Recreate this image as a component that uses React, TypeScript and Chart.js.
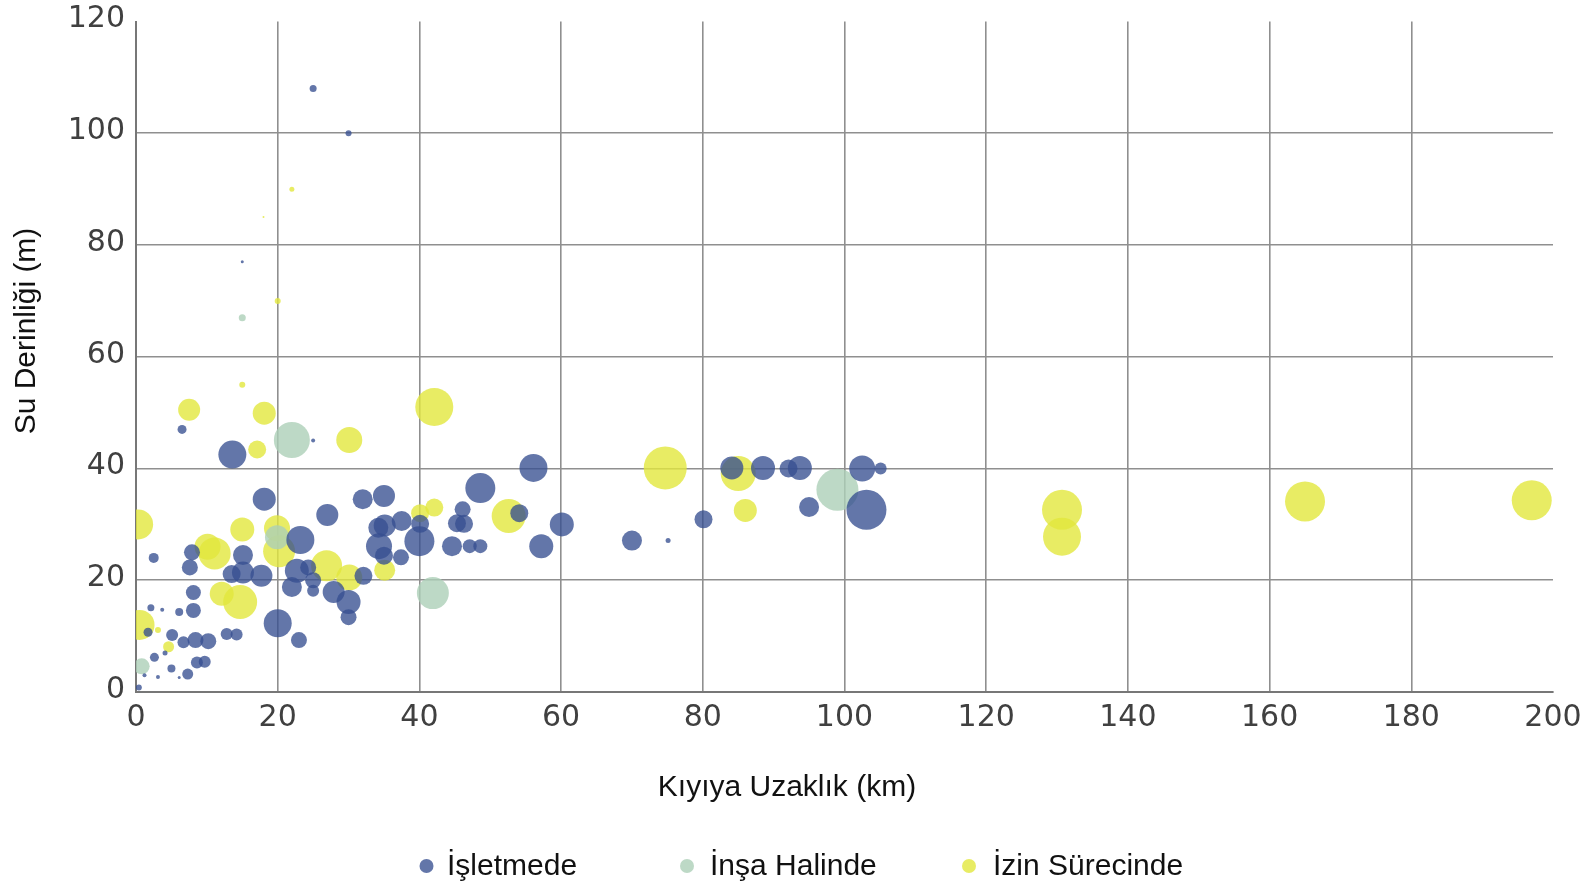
import React, { useEffect, useRef } from "react";
import { Chart, registerables } from "chart.js";

Chart.register(...registerables);

// ---- Data ----
const seriesNames = ["İşletmede", "İnşa Halinde", "İzin Sürecinde"];
const xAxisTitle = "Kıyıya Uzaklık (km)";
const yAxisTitle = "Su Derinliği (m)";
const xTickValues = [0, 20, 40, 60, 80, 100, 120, 140, 160, 180, 200];
const yTickValues = [0, 20, 40, 60, 80, 100, 120];

// [distance km, depth m, bubble radius]
const isletmede: number[][] = [
  [25, 108, 3.5], [30, 100, 3], [15, 77, 1.5], [6.5, 47, 4.5], [13.6, 42.5, 14], [25, 45, 2],
  [18.1, 34.5, 11.5], [2.5, 24, 5], [7.9, 25, 8], [7.6, 22.3, 8], [8.1, 17.8, 7.5], [8.1, 14.6, 7.5],
  [2.1, 15.1, 3.5], [3.7, 14.7, 2], [6.1, 14.3, 4], [1.7, 10.7, 4.5], [5.1, 10.2, 6], [6.7, 8.9, 6],
  [8.4, 9.3, 8], [10.2, 9.1, 8], [12.8, 10.4, 6], [14.2, 10.3, 6], [4.1, 7.0, 2.5], [2.6, 6.2, 4.5],
  [8.6, 5.3, 6], [9.7, 5.4, 6], [5.0, 4.2, 4], [7.3, 3.2, 5.5], [3.1, 2.7, 2], [6.1, 2.6, 1.5],
  [0.4, 0.8, 3], [1.2, 3.0, 2], [15.1, 24.5, 10], [15.1, 21.4, 11], [13.5, 21.1, 9], [17.7, 20.8, 11],
  [23.2, 27.2, 14], [22.7, 21.7, 12], [24.3, 22.3, 8], [25.0, 20.0, 8], [22.0, 18.8, 10], [25.0, 18.1, 6],
  [27.9, 17.9, 11], [30.0, 16.1, 12], [30.0, 13.4, 8], [32.1, 20.8, 9], [20.0, 12.3, 14], [23.0, 9.3, 8],
  [27.0, 31.7, 11], [32.0, 34.5, 10], [35.0, 35.1, 11], [34.2, 29.4, 10], [35.1, 29.8, 11], [37.5, 30.6, 10],
  [34.3, 26.1, 13], [35.0, 24.4, 9], [37.4, 24.1, 8], [40.0, 27.0, 15], [40.1, 30.1, 9], [46.1, 32.7, 8],
  [45.3, 30.2, 9], [46.3, 30.1, 9], [44.6, 26.1, 10], [47.1, 26.1, 7], [48.6, 26.1, 7], [48.6, 36.5, 15],
  [56.1, 40.1, 14], [54.1, 32.0, 9], [60.1, 30.0, 12], [57.2, 26.1, 12], [70.0, 27.1, 10], [75.1, 27.1, 2.5],
  [80.1, 30.9, 9], [84.1, 40.1, 11.5], [88.5, 40.1, 12], [92.1, 40.0, 9], [93.7, 40.1, 12], [95.0, 33.1, 10],
  [102.5, 40.0, 13], [105.1, 40.0, 6], [103.1, 32.6, 20],
];

const insaHalinde: number[][] = [
  [15, 67, 3.5], [22, 45.1, 18], [19.9, 27.7, 12], [0.8, 4.6, 8], [41.9, 17.7, 16], [99.0, 36.2, 21],
];

const izinSurecinde: number[][] = [
  [22, 90, 2.5], [18, 85, 1], [20, 70, 3], [15, 55, 3], [7.5, 50.5, 11], [18.1, 49.9, 11.5],
  [17.1, 43.4, 9], [30.1, 45.1, 13], [42.1, 51.0, 19], [0.3, 30, 15], [15.0, 29.1, 12], [10.1, 26.0, 13],
  [11.1, 24.8, 16], [19.9, 29.3, 13], [20.2, 25.2, 16], [26.9, 22.6, 15.5], [30.1, 20.5, 13], [35.1, 21.8, 10.5],
  [12.1, 17.6, 12], [14.7, 16.1, 17], [0.5, 12, 15], [3.1, 11.1, 3], [4.6, 8.1, 5.5], [40.1, 32.0, 9],
  [42.1, 33.0, 9], [52.6, 31.5, 17], [74.7, 40.1, 21.5], [85.0, 39.1, 17.5], [86.0, 32.5, 11.5],
  [130.7, 32.6, 20], [130.7, 27.8, 19], [165.0, 34.1, 20], [197.0, 34.3, 20],
];

const seriesColors = ["rgba(55,80,145,0.78)", "rgba(172,208,184,0.8)", "rgba(226,231,61,0.8)"];

const toPoints = (arr: number[][]) => arr.map(([x, y, r]) => ({ x, y, r }));

const overlayPlugin = {
  id: "overlayText",
  afterDraw(chart: any) {
    const ctx = chart.ctx as CanvasRenderingContext2D;
    ctx.save();
    ctx.fillStyle = "#111111";
    ctx.font = "30px 'Liberation Sans', Arial, sans-serif";
    ctx.textBaseline = "alphabetic";
    ctx.textAlign = "center";
    ctx.fillText(xAxisTitle, 787, 796);
    ctx.save();
    ctx.translate(35, 331);
    ctx.rotate(-Math.PI / 2);
    ctx.fillText(yAxisTitle, 0, 0);
    ctx.restore();
    // legend
    const dotX = [426.5, 687, 969];
    const textX = [447, 710, 993];
    ctx.textAlign = "left";
    seriesNames.forEach((name, i) => {
      ctx.beginPath();
      ctx.fillStyle = seriesColors[i];
      ctx.arc(dotX[i], 866, 7, 0, Math.PI * 2);
      ctx.fill();
      ctx.fillStyle = "#111111";
      ctx.fillText(name, textX[i], 875);
    });
    ctx.restore();
  },
};

export default function App() {
  const canvasRef = useRef<HTMLCanvasElement | null>(null);

  useEffect(() => {
    if (!canvasRef.current) return;
    const gridColor = "#8f8f8f";
    const chart = new Chart(canvasRef.current, {
      type: "bubble",
      data: {
        datasets: [
          { label: seriesNames[0], data: toPoints(isletmede), backgroundColor: seriesColors[0], borderWidth: 0, clip: 0 },
          { label: seriesNames[1], data: toPoints(insaHalinde), backgroundColor: seriesColors[1], borderWidth: 0, clip: 0 },
          { label: seriesNames[2], data: toPoints(izinSurecinde), backgroundColor: seriesColors[2], borderWidth: 0, clip: 0 },
        ],
      },
      options: {
        animation: false,
        responsive: true,
        maintainAspectRatio: false,
        events: [],
        layout: { padding: { top: 19, right: 33, bottom: 0, left: 0 } },
        plugins: { legend: { display: false }, tooltip: { enabled: false } },
        scales: {
          x: {
            type: "linear",
            min: 0,
            max: 200,
            afterBuildTicks: (scale: any) => {
              scale.ticks = xTickValues.map((v) => ({ value: v }));
            },
            afterFit: (scale: any) => {
              scale.height = 191;
              scale.paddingLeft = 0;
              scale.paddingRight = 0;
            },
            grid: {
              color: (c: any) => (c.tick && c.tick.value === 200 ? "rgba(0,0,0,0)" : gridColor),
              lineWidth: 1.6,
              drawTicks: false,
            },
            border: { color: "#777777", width: 2 },
            ticks: {
              padding: 8,
              color: "#404040",
              font: { family: "'DejaVu Sans', sans-serif", size: 30 },
              maxRotation: 0,
              autoSkip: false,
            },
          },
          y: {
            type: "linear",
            min: 0,
            max: 120,
            afterBuildTicks: (scale: any) => {
              scale.ticks = yTickValues.map((v) => ({ value: v }));
            },
            afterFit: (scale: any) => {
              scale.width = 136;
              scale.paddingTop = 0;
              scale.paddingBottom = 0;
            },
            grid: {
              color: (c: any) => (c.tick && c.tick.value === 120 ? "rgba(0,0,0,0)" : gridColor),
              lineWidth: 1.6,
              drawTicks: false,
            },
            border: { color: "#777777", width: 2 },
            ticks: {
              padding: 11,
              labelOffset: -2,
              color: "#404040",
              font: { family: "'DejaVu Sans', sans-serif", size: 30 },
              autoSkip: false,
            },
          },
        },
      },
      plugins: [overlayPlugin],
    });
    return () => chart.destroy();
  }, []);

  return (
    <div style={{ position: "fixed", left: 0, top: 0, width: "1586px", height: "883px", background: "#ffffff" }}>
      <canvas ref={canvasRef} />
    </div>
  );
}
